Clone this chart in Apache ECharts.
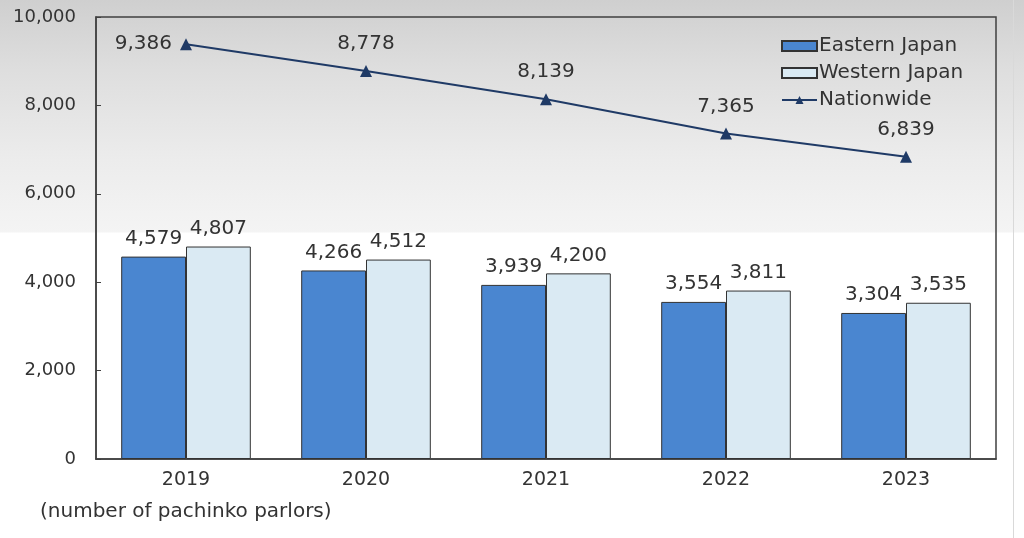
<!DOCTYPE html>
<html>
<head>
<meta charset="utf-8">
<script src="https://cdn.jsdelivr.net/npm/echarts@6/dist/echarts.min.js"></script>
<style>
html,body{margin:0;padding:0;}
body{width:1024px;height:538px;background:linear-gradient(to bottom,#cfcfcf 0px,#dedede 70px,#ececec 160px,#f4f4f4 232px,#ffffff 233px,#ffffff 538px);position:relative;}
#c{width:1024px;height:538px;position:absolute;left:0;top:0;}
#edge{position:absolute;left:1013px;top:0;width:1px;height:538px;background:#d9d9d9;}
</style>
</head>
<body>
<div id="edge"></div>
<div id="c"></div>
<script>
const years = ['2019', '2020', '2021', '2022', '2023'];
const eastern = [4579, 4266, 3939, 3554, 3304];
const western = [4807, 4512, 4200, 3811, 3535];
const nationwide = [9386, 8778, 8139, 7365, 6839];
const yTicks = [0, 2000, 4000, 6000, 8000, 10000];

const fmt = v => String(v).replace(/\B(?=(\d{3})+(?!\d))/g, ',');
const FONT = 'DejaVu Sans';
const chart = echarts.init(document.getElementById('c'), null, {renderer: 'canvas'});

chart.setOption({
  backgroundColor: 'transparent',
  textStyle: {fontFamily: FONT},
  grid: {left: 96, right: 28, top: 17, bottom: 79, show: true, borderColor: '#404040', borderWidth: 1.5, backgroundColor: 'transparent'},
  legend: {
    left: 776, top: 31, orient: 'vertical', itemWidth: 35, itemHeight: 10, itemGap: 7,
    textStyle: {fontFamily: FONT, fontSize: 20, color: '#333', padding: [0, 0, 0, -3]},
    data: [
      {name: 'Eastern Japan', icon: 'rect'},
      {name: 'Western Japan', icon: 'rect'},
      {name: 'Nationwide'}
    ]
  },
  xAxis: {
    type: 'category', data: years,
    axisLine: {lineStyle: {color: '#404040', width: 1.5}},
    axisTick: {inside: true, length: 5, lineStyle: {color: '#404040'}},
    axisLabel: {fontFamily: FONT, fontSize: 19, color: '#333', margin: 12}
  },
  yAxis: {
    type: 'value', min: 0, max: 10000, interval: 2000,
    splitLine: {show: false},
    axisLine: {show: true, lineStyle: {color: '#404040', width: 1.5}},
    axisTick: {show: true, inside: true, length: 5, lineStyle: {color: '#404040'}},
    axisLabel: {fontFamily: FONT, fontSize: 18, color: '#333', margin: 20, formatter: v => yTicks.includes(v) ? fmt(v) : ''}
  },
  series: [
    {
      name: 'Eastern Japan', type: 'bar', data: eastern, barGap: '0%', barCategoryGap: '28%',
      itemStyle: {color: '#4a86d0', borderColor: '#333', borderWidth: 1},
      label: {show: true, position: 'top', distance: 8, fontFamily: FONT, fontSize: 20, color: '#333', formatter: p => fmt(p.value)}
    },
    {
      name: 'Western Japan', type: 'bar', data: western,
      itemStyle: {color: '#daeaf3', borderColor: '#333', borderWidth: 1},
      label: {show: true, position: 'top', distance: 8, fontFamily: FONT, fontSize: 20, color: '#333', formatter: p => fmt(p.value)}
    },
    {
      name: 'Nationwide', type: 'line',
      data: nationwide.map((v, i) => i === 0 ? {value: v, label: {position: 'left', distance: 8}} : v),
      symbol: 'triangle', symbolSize: 12, lineStyle: {color: '#1f3a66', width: 2},
      itemStyle: {color: '#1f3a66'},
      label: {show: true, position: 'top', distance: 11, fontFamily: FONT, fontSize: 20, color: '#333', formatter: p => fmt(p.value)}
    }
  ],
  graphic: [
    {type: 'text', left: 40, top: 502, style: {text: '(number of pachinko parlors)', fontFamily: FONT, fontSize: 20, fill: '#333'}}
  ]
});
</script>
</body>
</html>
